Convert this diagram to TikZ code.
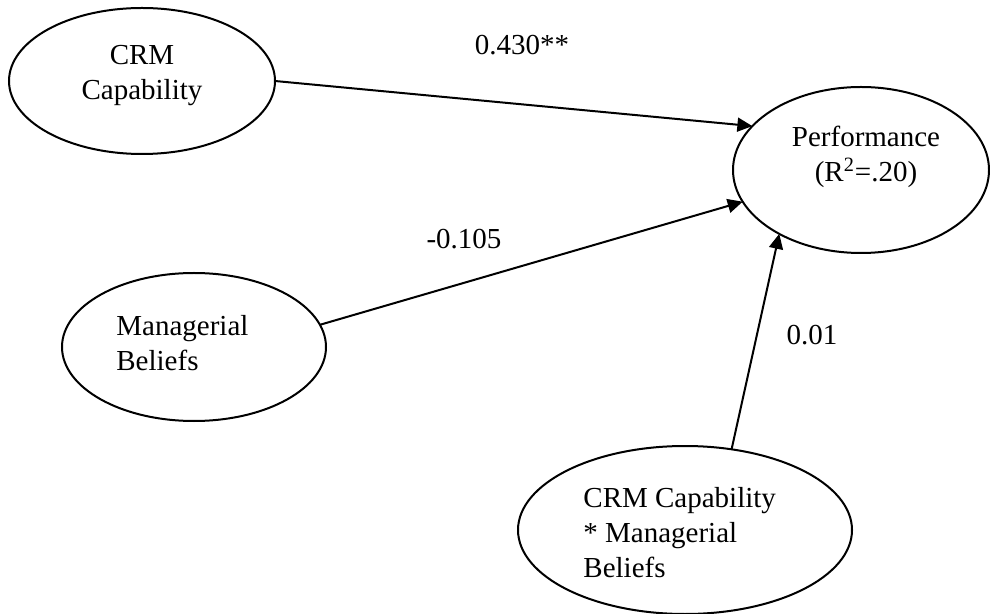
\documentclass[tikz,border=0pt]{standalone}
\usepackage{fontspec}
\setmainfont{Liberation Serif}
\usetikzlibrary{arrows.meta,shapes.geometric}
\tikzset{
	construct/.style={draw, ellipse, line width=1pt, inner sep=0pt, outer sep=0pt},
	caption/.style={inner sep=0pt, font=\fontsize{14.5}{17.5}\selectfont},
	causal/.style={line width=1pt, -{Triangle[length=7.5pt,width=7pt]}}
}

\begin{document}
\begin{tikzpicture}[x=0.5pt, y=0.5pt]
		%%%%% START %%%%%
		\useasboundingbox (0, 0) rectangle (990, -614);
		
		% constructs
		\node[construct, minimum width=133pt, minimum height=73pt] (crm) at (142, -81) {};
		\node[construct, minimum width=128pt, minimum height=83pt] (perf) at (861, -170) {};
		\node[construct, minimum width=132pt, minimum height=74pt] (mb) at (194, -347) {};
		\node[construct, minimum width=167pt, minimum height=84pt] (inter) at (685, -530) {};
		
		\node[caption, align=center] (crmtxt) at (142, -76) {CRM\\Capability};
		\node[caption, align=center] (perftxt) at (866, -157) {Performance\\(R\textsuperscript{2}=.20)};
		\node[caption, align=left, anchor=west] (mbtxt) at (116, -343) {Managerial\\Beliefs};
		\node[caption, align=left, anchor=west] (intertxt) at (583, -533) {CRM Capability\\* Managerial\\Beliefs};
		
		% paths
		\draw[causal] (crm.east) -- (perf.158);
		\draw[causal] (mb.10) -- (perf.195);
		\draw[causal] (inter.60) -- (perf.218);
		
		\node[caption] (coef1) at (522, -45) {0.430**};
		\node[caption] (coef2) at (464, -239) {-0.105};
		\node[caption] (coef3) at (812, -335) {0.01};
		%%%%% END %%%%%
\end{tikzpicture}
\end{document}
